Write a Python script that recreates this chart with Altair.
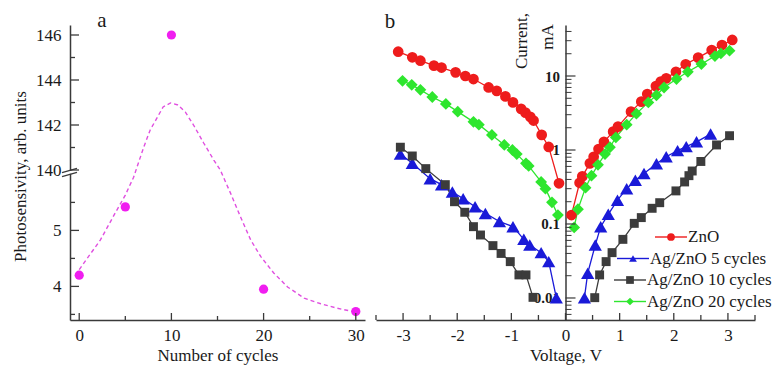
import altair as alt
import pandas as pd

FONT = "Liberation Serif"
AX_COLOR = "#3a3a3a"
TXT = "#1a1a1a"
MAGENTA = "#f01ef0"
FIT_COLOR = "#e04fe0"

# ---------------- panel a data ----------------
cycles = [0, 5, 10, 20, 30]
photosens = [4.20, 5.42, 146.0, 3.95, 3.55]
fit_cycles = [0.0, 2.3, 3.9, 5.0, 5.9, 7.0, 7.7, 8.5, 9.1, 9.9, 10.7, 11.5, 12.4,
              13.5, 14.6, 15.3, 16.4, 17.5, 18.6, 19.7, 21.1, 22.6, 24.4, 26.2, 28.0, 30.0]
fit_values = [4.30, 4.83, 5.31, 5.63, 5.95, 141.02, 141.78, 142.36, 142.80, 142.98,
              142.89, 142.58, 142.00, 141.20, 140.44, 140.0, 5.67, 5.24, 4.83, 4.53,
              4.24, 3.99, 3.79, 3.69, 3.61, 3.54]
a_x_major = [0, 10, 20, 30]
a_x_minor = [5, 15, 25]
a_y_major = [4, 5, 140, 142, 144, 146]
a_y_minor = [3.5, 4.5, 5.5, 141, 143, 145]

# ---------------- panel b data ----------------
series = ["ZnO", "Ag/ZnO 5 cycles", "Ag/ZnO 10 cycles", "Ag/ZnO 20 cycles"]
colors = ["#ee1c1c", "#1a1ad8", "#3c3c3c", "#2ee62e"]
shapes = ["circle", "triangle-up", "square", "diamond"]

zno_v = [-3.09, -2.83, -2.68, -2.43, -2.29, -2.03, -1.85, -1.70, -1.42, -1.27, -1.11, -0.97,
         -0.82, -0.74, -0.65, -0.59, -0.44, -0.31, -0.12,
         0.11, 0.26, 0.31, 0.45, 0.52, 0.61, 0.71, 0.88, 0.97, 1.21, 1.40, 1.51, 1.67, 1.76,
         1.86, 2.04, 2.22, 2.45, 2.70, 2.89, 3.08]
zno_i = [21.3, 17.9, 16.1, 13.8, 13.0, 11.2, 10.0, 9.1, 7.0, 6.3, 5.3, 4.4,
         3.6, 3.2, 2.8, 2.5, 1.6, 1.1, 0.355,
         0.132, 0.36, 0.44, 0.66, 0.81, 1.03, 1.29, 1.77, 2.07, 3.3, 4.5, 5.7, 7.3, 8.4,
         9.3, 11.4, 14.4, 17.7, 22.4, 26.2, 30.7]

c5_v = [-3.05, -2.83, -2.50, -2.29, -2.09, -1.89, -1.67, -1.48, -1.22, -0.97, -0.77, -0.66,
        -0.45, -0.31, -0.17,
        0.35, 0.41, 0.55, 0.65, 0.79, 0.96, 1.13, 1.29, 1.45, 1.68, 1.86, 2.07, 2.23, 2.42, 2.68]
c5_i = [0.88, 0.66, 0.41, 0.34, 0.27, 0.22, 0.171, 0.139, 0.108, 0.092, 0.062, 0.052,
        0.041, 0.031, 0.0101,
        0.0101, 0.0216, 0.052, 0.092, 0.135, 0.21, 0.30, 0.39, 0.48, 0.65, 0.81, 0.98, 1.11,
        1.29, 1.64]

c10_v = [-3.05, -2.83, -2.58, -2.22, -2.05, -1.86, -1.70, -1.57, -1.34, -1.19, -1.02, -0.86,
         -0.73, -0.60,
         0.54, 0.63, 0.75, 0.86, 1.06, 1.27, 1.40, 1.60, 1.74, 2.04, 2.20, 2.28, 2.34, 2.50,
         2.79, 3.03]
c10_i = [1.09, 0.83, 0.56, 0.34, 0.20, 0.144, 0.092, 0.071, 0.051, 0.040, 0.031, 0.0205,
         0.0205, 0.0102,
         0.0101, 0.0205, 0.031, 0.041, 0.062, 0.102, 0.122, 0.163, 0.194, 0.28, 0.37, 0.45,
         0.52, 0.70, 1.17, 1.56]

c20_v = [-3.01, -2.84, -2.68, -2.46, -2.21, -1.99, -1.70, -1.60, -1.36, -1.13, -0.98, -0.90,
         -0.73, -0.68, -0.45, -0.37, -0.25, -0.14,
         0.16, 0.23, 0.37, 0.48, 0.60, 0.73, 0.82, 0.93, 1.13, 1.31, 1.53, 1.68, 1.82, 2.05,
         2.26, 2.51, 2.76, 2.87, 3.03]
c20_i = [8.6, 7.6, 6.5, 5.2, 4.2, 3.3, 2.4, 2.2, 1.6, 1.17, 1.0, 0.88,
         0.66, 0.61, 0.37, 0.30, 0.196, 0.132,
         0.090, 0.158, 0.31, 0.45, 0.63, 0.88, 1.09, 1.48, 2.2, 3.1, 4.4, 5.5, 7.0, 9.1,
         11.4, 14.5, 18.6, 20.2, 22.0]

b_x_major = [-3, -2, -1, 0, 1, 2, 3]
b_x_minor = [-3.5, -2.5, -1.5, -0.5, 0.5, 1.5, 2.5, 3.5]
b_y_major = [0.01, 0.1, 1, 10]
b_y_minor = [0.005, 0.006, 0.007, 0.008, 0.009,
             0.02, 0.03, 0.04, 0.05, 0.06, 0.07, 0.08, 0.09,
             0.2, 0.3, 0.4, 0.5, 0.6, 0.7, 0.8, 0.9,
             2, 3, 4, 5, 6, 7, 8, 9, 20, 30, 40]

# ---------------- layout constants ----------------
W, H = 687, 295
PAD = {"left": 70, "top": 25, "right": 16, "bottom": 47}
LEG_MARKER_X = [671, 633, 630, 630]      # screen px
LEG_ROW_Y = [237, 258.5, 280, 301.5]     # screen px
MARKER_SIZES = [115, 175, 80, 140]

# broken axis of panel a: lower part 56 px/unit, upper part 22.5 px/unit
LOW_BASE, LOW_SCALE = 3.4, 56.0
HIGH_BASE, HIGH_SCALE = 140.0, 22.5
BREAK_POS = 150.0


def to_display(v):
    if v < HIGH_BASE / 2:
        return (v - LOW_BASE) * LOW_SCALE
    return BREAK_POS + (v - HIGH_BASE) * HIGH_SCALE


xa_scale = alt.Scale(domain=[-1, 31], range=[0, 295], nice=False, zero=False)
ya_scale = alt.Scale(domain=[0, H], range=[H, 0], nice=False, zero=False)
xb_scale = alt.Scale(domain=[-3.5, 3.5], range=[306, 685], nice=False, zero=False)
yb_scale = alt.Scale(type="log", domain=[0.00504, 48.9], range=[H, 0], nice=False)
col_scale = alt.Scale(domain=series, range=colors)
shape_scale = alt.Scale(domain=series, range=shapes)
size_scale = alt.Scale(type="ordinal", domain=series, range=MARKER_SIZES)

ax_common = dict(grid=False, ticks=False, domainColor=AX_COLOR, domainWidth=1.5,
                 labelFont=FONT, labelColor=TXT, titleFont=FONT, titleColor=TXT,
                 titleFontWeight="normal", zindex=0, labelFlush=False, labelOverlap=False)

one = pd.DataFrame({"k": [0]})

# ---------------- panel a ----------------
dfa = pd.DataFrame({"cycles": cycles, "value": photosens})
dfa["disp"] = dfa["value"].map(to_display)
dffit = pd.DataFrame({"cycles": fit_cycles, "value": fit_values})
dffit["disp"] = dffit["value"].map(to_display)

label_expr_a = (f"datum.value < {BREAK_POS} ? round({LOW_BASE} + datum.value/{LOW_SCALE}) : "
                f"round({HIGH_BASE} + (datum.value-{BREAK_POS})/{HIGH_SCALE})")

a_fit = alt.Chart(dffit).mark_line(color=FIT_COLOR, strokeWidth=1.4, strokeDash=[4, 3]).encode(
    x=alt.X("cycles:Q", scale=xa_scale, axis=None),
    y=alt.Y("disp:Q", scale=ya_scale, axis=None),
)

a_points = alt.Chart(dfa).mark_circle(size=85, color=MAGENTA, opacity=1).encode(
    x=alt.X("cycles:Q", scale=xa_scale,
            axis=alt.Axis(orient="bottom", values=a_x_major, format="d", labelFontSize=17,
                          labelPadding=7, title="Number of cycles", titleFontSize=17,
                          titleY=35, titleBaseline="middle", **ax_common)),
    y=alt.Y("disp:Q", scale=ya_scale,
            axis=alt.Axis(orient="left", values=[to_display(v) for v in a_y_major],
                          labelExpr=label_expr_a, labelFontSize=17, labelPadding=9,
                          title="Photosensivity, arb. units", titleFontSize=17,
                          titleAngle=270, titleX=-50, titleY=151, titleAlign="center",
                          titleBaseline="middle", **ax_common)),
)

a_xmaj = alt.Chart(pd.DataFrame({"v": a_x_major})).mark_rule(color=AX_COLOR, strokeWidth=1.3).encode(
    x=alt.X("v:Q", scale=xa_scale, axis=None), y=alt.value(H), y2=alt.value(H - 7))
a_xmin = alt.Chart(pd.DataFrame({"v": a_x_minor})).mark_rule(color=AX_COLOR, strokeWidth=1.3).encode(
    x=alt.X("v:Q", scale=xa_scale, axis=None), y=alt.value(H), y2=alt.value(H - 4))
a_ymaj = alt.Chart(pd.DataFrame({"d": [to_display(v) for v in a_y_major]})).mark_rule(
    color=AX_COLOR, strokeWidth=1.3).encode(
    y=alt.Y("d:Q", scale=ya_scale, axis=None), x=alt.value(0), x2=alt.value(9))
a_ymin = alt.Chart(pd.DataFrame({"d": [to_display(v) for v in a_y_minor]})).mark_rule(
    color=AX_COLOR, strokeWidth=1.3).encode(
    y=alt.Y("d:Q", scale=ya_scale, axis=None), x=alt.value(0), x2=alt.value(5))

brk_gap = alt.Chart(one).mark_rect(color="white").encode(
    x=alt.value(-2), x2=alt.value(2), y=alt.value(146), y2=alt.value(148.8))
brk1 = alt.Chart(one).mark_rule(color=AX_COLOR, strokeWidth=1.3).encode(
    x=alt.value(-8), x2=alt.value(7), y=alt.value(147.7), y2=alt.value(143.3))
brk2 = alt.Chart(one).mark_rule(color=AX_COLOR, strokeWidth=1.3).encode(
    x=alt.value(-8), x2=alt.value(7), y=alt.value(151.7), y2=alt.value(147.3))

# ---------------- panel b ----------------
rows = []
for name, vs, cs in [(series[0], zno_v, zno_i), (series[1], c5_v, c5_i),
                     (series[2], c10_v, c10_i), (series[3], c20_v, c20_i)]:
    for v, c in zip(vs, cs):
        rows.append({"series": name, "V": v, "I": c, "branch": "neg" if v < 0 else "pos"})
dfb = pd.DataFrame(rows)

b_lines = alt.Chart(dfb).mark_line(strokeWidth=1.3).encode(
    x=alt.X("V:Q", scale=xb_scale, axis=None),
    y=alt.Y("I:Q", scale=yb_scale, axis=None),
    color=alt.Color("series:N", scale=col_scale, legend=None),
    detail="branch:N",
)

b_points = alt.Chart(dfb).mark_point(filled=True, opacity=1, strokeWidth=0).encode(
    x=alt.X("V:Q", scale=xb_scale,
            axis=alt.Axis(orient="bottom", values=b_x_major,
                          labelExpr="datum.value < 0 ? '-' + abs(datum.value) : '' + datum.value",
                          labelFontSize=17, labelPadding=7, title="Voltage, V", titleFontSize=17,
                          titleY=35, titleBaseline="middle", **ax_common)),
    y=alt.Y("I:Q", scale=yb_scale,
            axis=alt.Axis(orient="left", offset=-495.5, values=b_y_major, format="~g",
                          labelFontSize=15, labelFontWeight="bold", labelPadding=6,
                          title="", **ax_common)),
    color=alt.Color("series:N", scale=col_scale, legend=None),
    shape=alt.Shape("series:N", scale=shape_scale, legend=None),
    size=alt.Size("series:N", scale=size_scale, legend=None),
)

b_xmaj = alt.Chart(pd.DataFrame({"v": b_x_major})).mark_rule(color=AX_COLOR, strokeWidth=1.3).encode(
    x=alt.X("v:Q", scale=xb_scale, axis=None), y=alt.value(H), y2=alt.value(H - 7))
b_xmin = alt.Chart(pd.DataFrame({"v": b_x_minor})).mark_rule(color=AX_COLOR, strokeWidth=1.3).encode(
    x=alt.X("v:Q", scale=xb_scale, axis=None), y=alt.value(H), y2=alt.value(H - 5))
b_ymaj = alt.Chart(pd.DataFrame({"v": b_y_major, "x0": 0.0})).mark_rule(
    color=AX_COLOR, strokeWidth=1.2, x2Offset=10).encode(
    x=alt.X("x0:Q", scale=xb_scale, axis=None), x2=alt.X2("x0"),
    y=alt.Y("v:Q", scale=yb_scale, axis=None))
b_ymin = alt.Chart(pd.DataFrame({"v": b_y_minor, "x0": 0.0})).mark_rule(
    color=AX_COLOR, strokeWidth=1.0, x2Offset=6).encode(
    x=alt.X("x0:Q", scale=xb_scale, axis=None), x2=alt.X2("x0"),
    y=alt.Y("v:Q", scale=yb_scale, axis=None))

# ---------------- legend (drawn by hand: line + marker + label) ----------------
leg = pd.DataFrame({"label": series, "col": colors, "shp": shapes,
                    "mx": [x - PAD["left"] for x in LEG_MARKER_X],
                    "ly": [y - PAD["top"] for y in LEG_ROW_Y]})
leg["lx1"] = leg["mx"] - 16
leg["lx2"] = leg["mx"] + 16
leg["tx"] = leg["mx"] + 17

leg_line = alt.Chart(leg).mark_rule(strokeWidth=1.4).encode(
    x=alt.X("lx1:Q", scale=None, axis=None), x2=alt.X2("lx2"),
    y=alt.Y("ly:Q", scale=None, axis=None),
    color=alt.Color("col:N", scale=None, legend=None))
leg_pt = alt.Chart(leg).mark_point(filled=True, opacity=1, size=60, strokeWidth=0).encode(
    x=alt.X("mx:Q", scale=None, axis=None),
    y=alt.Y("ly:Q", scale=None, axis=None),
    color=alt.Color("col:N", scale=None, legend=None),
    shape=alt.Shape("shp:N", scale=None, legend=None))
leg_txt = alt.Chart(leg).mark_text(align="left", baseline="middle", font=FONT, fontSize=17,
                                   color=TXT).encode(
    x=alt.X("tx:Q", scale=None, axis=None),
    y=alt.Y("ly:Q", scale=None, axis=None),
    text="label:N")

# ---------------- panel letters and current title ----------------
def txt(s, x, y, size=17, angle=0, baseline="middle"):
    return alt.Chart(pd.DataFrame({"t": [s]})).mark_text(
        font=FONT, fontSize=size, color=TXT, angle=angle, align="center",
        baseline=baseline).encode(x=alt.value(x), y=alt.value(y), text="t:N")


t_a = txt("a", 102 - PAD["left"], 27 - PAD["top"], size=21, baseline="alphabetic")
t_b = txt("b", 390 - PAD["left"], 28 - PAD["top"], size=21, baseline="alphabetic")
t_cur = txt("Current,", 522 - PAD["left"], 41 - PAD["top"], angle=270)
t_ma = txt("mA", 548 - PAD["left"], 37 - PAD["top"], angle=270)

chart = alt.layer(
    a_fit, a_points, a_xmaj, a_xmin, a_ymaj, a_ymin, brk_gap, brk1, brk2,
    b_lines, b_points, b_xmaj, b_xmin, b_ymaj, b_ymin,
    leg_line, leg_pt, leg_txt, t_a, t_b, t_cur, t_ma,
).resolve_scale(
    x="independent", y="independent", color="independent", shape="independent",
    size="independent",
).properties(
    width=W, height=H, padding=PAD, autosize=alt.AutoSizeParams(type="none"),
    background="white",
).configure_view(stroke="transparent")

chart.save("out.html", embed_options={"renderer": "svg", "actions": False})
